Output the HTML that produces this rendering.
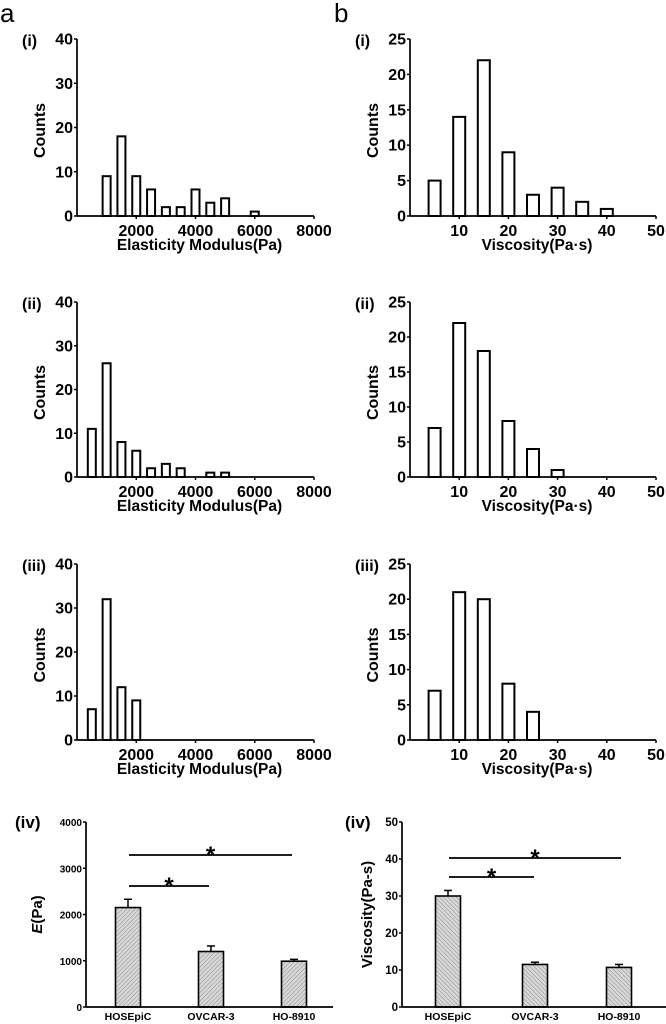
<!DOCTYPE html>
<html><head><meta charset="utf-8"><style>
html,body{margin:0;padding:0;background:#fff;}
svg{display:block;font-family:"Liberation Sans",Arial,sans-serif;}
</style></head><body>
<svg id="fig" width="666" height="1024" viewBox="0 0 666 1024">
<defs>
<pattern id="hatchL" width="3" height="3" patternUnits="userSpaceOnUse" patternTransform="rotate(45)">
<rect width="3" height="3" fill="#d8d8d8"/><line x1="0" y1="0" x2="0" y2="3" stroke="#777" stroke-width="0.8"/></pattern>
<pattern id="hatchR" width="3" height="3" patternUnits="userSpaceOnUse" patternTransform="rotate(-45)">
<rect width="3" height="3" fill="#d8d8d8"/><line x1="0" y1="0" x2="0" y2="3" stroke="#777" stroke-width="0.8"/></pattern>
</defs>
<text x="0" y="22" font-size="26">a</text>
<text x="334" y="22" font-size="26">b</text>
</svg>
<script>
// Histogram data
const eBins = [500,1000,1500,2000,2500,3000,3500,4000,4500,5000,5500,6000];
const eCounts1 = [0,9,18,9,6,2,2,6,3,4,0,1];
const eCounts2 = [11,26,8,6,2,3,2,0,1,1,0,0];
const eCounts3 = [7,32,12,9,0,0,0,0,0,0,0,0];
const eTicksX = [2000,4000,6000,8000];
const eTicksY = [0,10,20,30,40];
const vBins = [5,10,15,20,25,30,35,40];
const vCounts1 = [5,14,22,9,3,4,2,1];
const vCounts2 = [7,22,18,8,4,1,0,0];
const vCounts3 = [7,21,20,8,4,0,0,0];
const vTicksX = [10,20,30,40,50];
const vTicksY = [0,5,10,15,20,25];
// Bar chart data
const cells = ["HOSEpiC","OVCAR-3","HO-8910"];
const eMeans = [2150,1200,990];
const eErrs = [180,120,40];
const eBarTicks = [0,1000,2000,3000,4000];
const vMeans = [30,11.5,10.7];
const vErrs = [1.5,0.6,0.8];
const vBarTicks = [0,10,20,30,40,50];

const NS="http://www.w3.org/2000/svg";
const svg=document.getElementById('fig');
function mk(tag,attrs,parent,text){const e=document.createElementNS(NS,tag);for(const k in attrs)e.setAttribute(k,attrs[k]);if(text!==undefined)e.textContent=text;(parent||svg).appendChild(e);return e;}

function hist(o){
  const g=mk('g',{});
  
  
  const sx=v=>o.x0+(v-0)/(o.xmax)*(o.x1-o.x0);
  const sy=v=>o.yb-(v/o.ymax)*(o.yb-o.yt);
  o.bins.forEach((b,i)=>{
    if(!o.counts[i])return;
    const r=mk('rect',{x:sx(b)-o.bw/2,y:sy(o.counts[i]),width:o.bw,height:o.yb-sy(o.counts[i]),fill:'#fff',stroke:'#000','stroke-width':2},g);
    
    
  });
  const ya=mk('line',{x1:o.x0,y1:o.yt,x2:o.x0,y2:o.yb,stroke:'#000','stroke-width':1.7},g);
  
  const xa=mk('line',{x1:o.x0,y1:o.yb,x2:o.x1,y2:o.yb,stroke:'#000','stroke-width':1.7},g);
  
  o.ticksY.forEach(t=>{
    mk('line',{x1:o.x0-3,y1:sy(t),x2:o.x0,y2:sy(t),stroke:'#000','stroke-width':1.5},g);
    const tl=mk('text',{x:o.x0-4,y:sy(t)+5.5,'font-size':16,'font-weight':'bold','text-anchor':'end'},g,t);
    
  });
  o.ticksX.forEach(t=>{
    mk('line',{x1:sx(t),y1:o.yb,x2:sx(t),y2:o.yb+3,stroke:'#000','stroke-width':1.5},g);
    const tl=mk('text',{x:sx(t),y:o.yb+20,'font-size':16,'font-weight':'bold','text-anchor':'middle'},g,t);
    
  });
  const yt=mk('text',{x:0,y:0,'font-size':16,'font-weight':'bold','text-anchor':'middle',transform:`translate(${o.x0-32},${(o.yt+o.yb)/2+3}) rotate(-90)`},g,'Counts');
  
  const xt=mk('text',{x:(o.x0+o.x1)/2+4,y:o.yb+34,'font-size':15.5,'font-weight':'bold','text-anchor':'middle'},g,o.xtitle);
  
  const pl=mk('text',{x:o.x0-55,y:o.yt+7,'font-size':16,'font-weight':'bold'},g,o.label);
  
}
const ePanels=[[eCounts1,39,216,'(i)','a-i'],[eCounts2,302,477,'(ii)','a-ii'],[eCounts3,564,740,'(iii)','a-iii']];
ePanels.forEach(p=>hist({name:'histogram-elasticity-'+p[4],bins:eBins,counts:p[0],x0:77,x1:314,xmax:8000,yt:p[1],yb:p[2],ymax:40,bw:8,ticksX:eTicksX,ticksY:eTicksY,xtitle:'Elasticity Modulus(Pa)',label:p[3]}));
const vPanels=[[vCounts1,39,216,'(i)','b-i'],[vCounts2,302,477,'(ii)','b-ii'],[vCounts3,564,740,'(iii)','b-iii']];
vPanels.forEach(p=>hist({name:'histogram-viscosity-'+p[4],bins:vBins,counts:p[0],x0:410,x1:656,xmax:50,yt:p[1],yb:p[2],ymax:25,bw:12,ticksX:vTicksX,ticksY:vTicksY,xtitle:'Viscosity(Pa·s)',label:p[3]}));

function barChart(o){
  const g=mk('g',{});
  
  
  const sy=v=>o.yb-(v/o.ymax)*(o.yb-o.yt);
  o.means.forEach((m,i)=>{
    const cx=o.cx[i];
    mk('line',{x1:cx,y1:sy(m),x2:cx,y2:sy(m+o.errs[i]),stroke:'#000','stroke-width':1.5},g);
    mk('line',{x1:cx-4,y1:sy(m+o.errs[i]),x2:cx+4,y2:sy(m+o.errs[i]),stroke:'#000','stroke-width':1.5},g);
    const r=mk('rect',{x:cx-12.5,y:sy(m),width:25,height:o.yb-sy(m),fill:`url(#${o.hatch})`,stroke:'#000','stroke-width':1.6},g);
    
    
    const cl=mk('text',{x:cx,y:o.yb+13,'font-size':10.5,'font-weight':'bold','text-anchor':'middle'},g,cells[i]);
    
  });
  mk('line',{x1:o.x0,y1:o.yt,x2:o.x0,y2:o.yb,stroke:'#000','stroke-width':1.7},g);
  mk('line',{x1:o.x0,y1:o.yb,x2:o.x1,y2:o.yb,stroke:'#000','stroke-width':1.7},g);
  o.ticks.forEach(t=>{
    mk('line',{x1:o.x0-3,y1:sy(t),x2:o.x0,y2:sy(t),stroke:'#000','stroke-width':1.5},g);
    const tl=mk('text',{x:o.x0-4,y:sy(t)+4,'font-size':o.tfs,'font-weight':'bold','text-anchor':'end'},g,t);
    
  });
  o.sig.forEach(s=>{
    const l=mk('line',{x1:s[0],y1:s[2],x2:s[1],y2:s[2],stroke:'#000','stroke-width':1.7},g);
    
    const st=mk('text',{x:(s[0]+s[1])/2,y:s[2]+8,'font-size':24,'font-weight':'bold','text-anchor':'middle'},g,'*');
    
  });
  const yt=mk('text',{x:0,y:0,'font-size':o.yfs,'font-weight':'bold','text-anchor':'middle',transform:`translate(${o.ylx},${(o.yt+o.yb)/2}) rotate(-90)`},g);
  
  if(o.italic){mk('tspan',{'font-style':'italic'},yt,'E');mk('tspan',{},yt,'(Pa)');}else yt.textContent=o.ytitle;
  const pl=mk('text',{x:o.x0-72+o.lo,y:o.yt+6,'font-size':17,'font-weight':'bold'},g,'(iv)');
  
}
barChart({name:'bar-chart-elasticity',means:eMeans,errs:eErrs,cx:[128,211,294],x0:86,x1:333,yt:822,yb:1007,ymax:4000,ticks:eBarTicks,tfs:10,hatch:'hatchL',sig:[[129,292,855],[129,209,886]],ylx:42,yfs:15,italic:true,lo:1});
barChart({name:'bar-chart-viscosity',means:vMeans,errs:vErrs,cx:[448,535,619],x0:402,x1:666,yt:822,yb:1007,ymax:50,ticks:vBarTicks,tfs:11.5,hatch:'hatchR',sig:[[449,621,858],[449,534,877]],ylx:372,yfs:15,ytitle:'Viscosity(Pa-s)',lo:15});
</script>
</body></html>
